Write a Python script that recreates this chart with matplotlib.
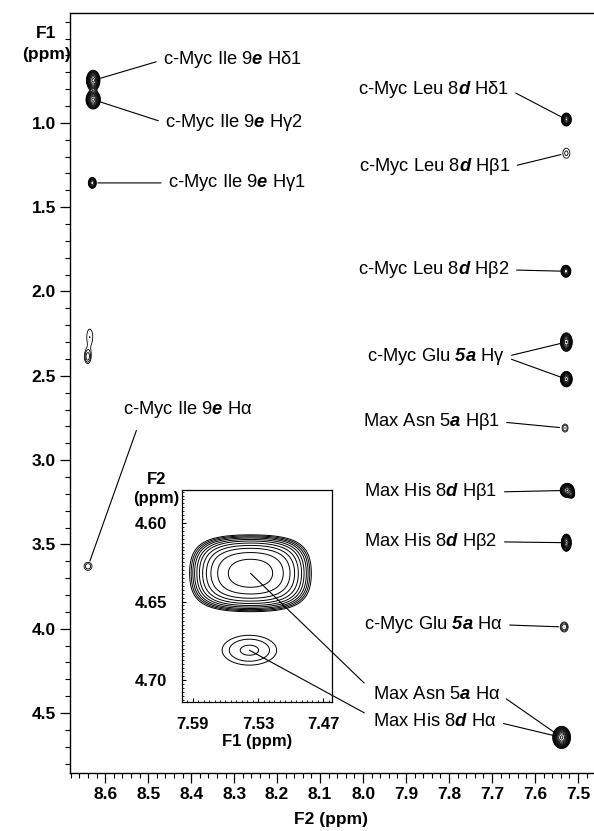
import numpy as np
import matplotlib.pyplot as plt
from matplotlib.ticker import MultipleLocator, FixedLocator
from matplotlib.text import OffsetFrom

plt.rcParams['font.family'] = ['Liberation Sans', 'DejaVu Sans']
plt.rcParams['mathtext.fontset'] = 'custom'
plt.rcParams['mathtext.rm'] = 'Liberation Sans'
plt.rcParams['mathtext.it'] = 'Liberation Sans:italic'
plt.rcParams['mathtext.bf'] = 'Liberation Sans:bold'
plt.rcParams['mathtext.bfit'] = 'Liberation Sans:italic:bold'

# main spectrum peaks: F2 shift, F1 shift, sigma F2, sigma F1, height
peak_f2 = [8.628, 8.628, 8.630, 8.636, 8.641, 8.640,
           7.527, 7.527, 7.528, 7.527, 7.527, 7.530,
           7.525, 7.515, 7.527, 7.532, 7.538]
peak_f1 = [0.748, 0.862, 1.356, 2.27, 2.39, 3.63,
           0.98, 1.18, 1.88, 2.30, 2.52, 2.81,
           3.18, 3.205, 3.49, 3.99, 4.645]
peak_s2 = [0.0068, 0.0072, 0.0049, 0.0095, 0.0064, 0.0095,
           0.0052, 0.0099, 0.0054, 0.0060, 0.0060, 0.0067,
           0.0070, 0.0040, 0.0050, 0.0073, 0.0082]
peak_s1 = [0.026, 0.024, 0.0172, 0.065, 0.033, 0.0245,
           0.0173, 0.036, 0.0166, 0.024, 0.0200, 0.023,
           0.018, 0.012, 0.0220, 0.0236, 0.0260]
peak_h = [15, 15, 6, 1.3, 1.8, 1.6,
          12, 1.4, 10, 14, 14, 1.7,
          15, 4, 15, 2.2, 25]

# assignments: label text, index of the peak(s) it points to
labels = [
    ("c-Myc Ile 9$\\mathbfit{e}$ Hδ1", [0]),
    ("c-Myc Ile 9$\\mathbfit{e}$ Hγ2", [1]),
    ("c-Myc Ile 9$\\mathbfit{e}$ Hγ1", [2]),
    ("c-Myc Ile 9$\\mathbfit{e}$ Hα", [5]),
    ("c-Myc Leu 8$\\mathbfit{d}$ Hδ1", [6]),
    ("c-Myc Leu 8$\\mathbfit{d}$ Hβ1", [7]),
    ("c-Myc Leu 8$\\mathbfit{d}$ Hβ2", [8]),
    ("c-Myc Glu $\\mathbfit{5a}$ Hγ", [9, 10]),
    ("Max Asn 5$\\mathbfit{a}$ Hβ1", [11]),
    ("Max His 8$\\mathbfit{d}$ Hβ1", [12]),
    ("Max His 8$\\mathbfit{d}$ Hβ2", [14]),
    ("c-Myc Glu $\\mathbfit{5a}$ Hα", [15]),
    ("Max Asn 5$\\mathbfit{a}$ Hα", [16]),
    ("Max His 8$\\mathbfit{d}$ Hα", [16]),
]
label_xy = [(8.466, 0.626), (8.461, 1.0), (8.454, 1.356), (8.558, 2.70),
            (7.659, 0.804), (7.657, 1.261), (7.659, 1.872), (7.670, 2.388),
            (7.682, 2.773), (7.687, 3.189), (7.687, 3.485), (7.675, 3.977),
            (7.680, 4.393), (7.689, 4.553)]

# inset (expanded H-alpha region): F1 shift, F2 shift, sigmas, contour steps
inset_f1 = [7.537, 7.538]
inset_f2 = [4.632, 4.681]
inset_s1 = [0.0396, 0.0169]
inset_s2 = [0.0173, 0.0064]
inset_quart = [0.5, 0.0]
inset_steps = [[0.3, 0.75, 1.2, 1.6, 2.0, 2.4, 2.75, 3.1, 3.4, 3.7, 4.0],
               [0.25, 1.2, 2.2]]

fig = plt.figure(figsize=(5.94, 8.31), dpi=100)
ax = fig.add_axes([0.1178, 0.0698, 0.8805, 0.9146])

# main spectrum
gx = np.arange(7.46, 8.69, 0.001)
gy = np.arange(0.34, 4.86, 0.0025)
X, Y = np.meshgrid(gx, gy)
Z = np.zeros_like(X)
for x0, y0, sx, sy, h in zip(peak_f2, peak_f1, peak_s2, peak_s1, peak_h):
    Z += h * np.exp(-0.5 * (((X - x0) / sx) ** 2 + ((Y - y0) / sy) ** 2))
levels = 1.3 ** np.arange(0, 14)
ax.contour(X, Y, Z, levels=levels, colors='black', linewidths=0.6, zorder=3)

ax.set_xlim(8.682, 7.465)
ax.set_ylim(4.856, 0.348)
ax.xaxis.set_major_locator(MultipleLocator(0.1))
ax.xaxis.set_minor_locator(MultipleLocator(0.02))
ax.yaxis.set_major_locator(FixedLocator([1.0, 1.5, 2.0, 2.5, 3.0, 3.5, 4.0, 4.5]))
ax.yaxis.set_minor_locator(MultipleLocator(0.1))
ax.xaxis.set_major_formatter(plt.FormatStrFormatter('%.1f'))
ax.yaxis.set_major_formatter(plt.FormatStrFormatter('%.1f'))
ax.spines['right'].set_visible(False)
for s in ['left', 'bottom', 'top']:
    ax.spines[s].set_linewidth(1.0)
ax.tick_params(which='major', direction='out', length=7, width=0.9, pad=3,
               labelsize=12.5)
ax.tick_params(which='minor', direction='out', length=3.5, width=0.8)
for t in ax.get_xticklabels() + ax.get_yticklabels():
    t.set_fontweight('bold')
ax.set_xlabel("F2 (ppm)", fontsize=12.5, fontweight='bold', labelpad=7)
ax.text(-0.045, 0.9595, "F1\n(ppm)", transform=ax.transAxes, ha='center',
        va='center', fontsize=12.5, fontweight='bold', linespacing=1.5)

line_kw = dict(arrowstyle='-', color='black', lw=0.8)
texts = []
for (txt, idx), (tx, ty) in zip(labels, label_xy):
    left_side = tx > 8.3
    t = ax.text(tx, ty, txt, ha='left' if left_side else 'right',
                va='center', fontsize=13.2)
    texts.append(t)
    if txt.endswith("Hα") and left_side:
        rel, gap = (0.13, 0.0), 8
    else:
        rel, gap = ((0.0, 0.5) if left_side else (1.0, 0.5)), 5
    for j in idx:
        ax.annotate('', xy=(peak_f2[j], peak_f1[j]), xytext=(0, 0),
                    textcoords=OffsetFrom(t, rel, unit='points'),
                    arrowprops=dict(line_kw, shrinkA=gap, shrinkB=4))

# inset
axi = fig.add_axes([0.3064, 0.1552, 0.2525, 0.2551])
ix = np.arange(7.46, 7.602, 0.0004)
iy = np.arange(4.575, 4.72, 0.0002)
IX, IY = np.meshgrid(ix, iy)
for x0, y0, sx, sy, a, steps in zip(inset_f1, inset_f2, inset_s1, inset_s2,
                                    inset_quart, inset_steps):
    u = (IX - x0) / sx
    v = (IY - y0) / sy
    IZ = np.exp(-(u ** 2 + v ** 2 + a * (u ** 4 + v ** 4)))
    axi.contour(IX, IY, IZ, levels=np.sort(np.exp(-np.array(steps))),
                colors='black', linewidths=0.7)
axi.set_xlim(7.600, 7.462)
axi.set_ylim(4.714, 4.579)
axi.xaxis.set_major_locator(FixedLocator([7.59, 7.53, 7.47]))
axi.yaxis.set_major_locator(FixedLocator([4.60, 4.65, 4.70]))
axi.xaxis.set_minor_locator(MultipleLocator(0.005))
axi.yaxis.set_minor_locator(MultipleLocator(0.0025))
axi.xaxis.set_major_formatter(plt.FormatStrFormatter('%.2f'))
axi.yaxis.set_major_formatter(plt.FormatStrFormatter('%.2f'))
axi.tick_params(which='major', direction='in', length=3, width=0.8, pad=11,
                labelsize=12)
axi.tick_params(which='minor', direction='in', length=1.5, width=0.6)
for t in axi.get_xticklabels() + axi.get_yticklabels():
    t.set_fontweight('bold')
for s in axi.spines.values():
    s.set_linewidth(0.9)
axi.text(-0.17, 1.005, "F2\n(ppm)", transform=axi.transAxes, ha='center',
         va='center', fontsize=12, fontweight='bold', linespacing=1.4)
axi.text(0.5, -0.185, "F1 (ppm)", transform=axi.transAxes, ha='center',
         va='center', fontsize=12, fontweight='bold')

# lines from the inset peaks to the H-alpha labels
for k, t, off in [(0, texts[12], (-6.5, 8.6)), (1, texts[13], (-6.5, 6.5))]:
    axi.annotate('', xy=(inset_f1[k], inset_f2[k]), xytext=off,
                 textcoords=OffsetFrom(t, (0.0, 0.5), unit='points'),
                 arrowprops=dict(line_kw, shrinkA=0, shrinkB=0),
                 annotation_clip=False)

fig.savefig("out.png", dpi=100)
